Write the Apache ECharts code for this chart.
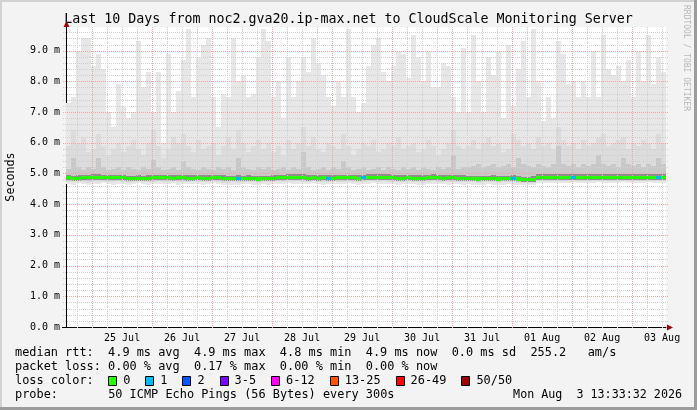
<!DOCTYPE html>
<html>
<head>
<meta charset="utf-8">
<script src="https://cdn.jsdelivr.net/npm/echarts@6/dist/echarts.min.js"></script>
<style>
html,body{margin:0;padding:0;background:#f3f3f3;}
#c{width:697px;height:410px;}
</style>
</head>
<body>
<div id="c"></div>
<script>
// ---- time base: hours after 24 Jul 2026 00:00 ----
const START_H = 13 + 33 / 60 + 32 / 3600;   // 24 Jul 13:33:32
const SPAN_H = 240;                          // 10 days
const STEP_H = 2;                            // one smoke column = 2 hours

const dayLabels = ['25 Jul', '26 Jul', '27 Jul', '28 Jul', '29 Jul', '30 Jul', '31 Jul', '01 Aug', '02 Aug', '03 Aug'];
const dayLabelHours = [36, 60, 84, 108, 132, 156, 180, 204, 228, 252];
const yTickValues = [0, 1, 2, 3, 4, 5, 6, 7, 8, 9];

// ---- RTT values in milliseconds (axis shows "m" = milli-seconds) ----
const maxRtt = [
  7.3, 7.5, 9.0, 9.4, 9.4, 8.5, 8.9, 8.4, 7.0, 6.5, 7.9, 7.2, 6.8, 7.0, 9.3, 7.8, 8.3, 7.0, 8.3, 6.0,
  8.9, 7.0, 7.7, 8.7, 9.7, 7.5, 8.8, 9.2, 9.4, 7.5, 6.5, 7.6, 7.5, 9.4, 8.0, 8.2, 7.5, 7.6, 8.8, 9.7,
  9.3, 7.5, 8.0, 6.8, 8.8, 7.5, 8.0, 8.8, 8.3, 9.4, 8.6, 8.2, 7.5, 7.2, 8.0, 7.5, 9.7, 7.5, 7.0, 7.3,
  8.5, 9.2, 9.4, 8.3, 8.0, 8.5, 9.0, 8.9, 8.1, 9.5, 8.8, 8.0, 9.0, 7.8, 7.8, 8.6, 8.5, 7.5, 7.0, 9.1,
  7.0, 9.5, 8.0, 7.0, 8.8, 8.2, 9.0, 6.8, 9.2, 7.2, 8.4, 9.3, 7.5, 9.7, 8.0, 6.7, 7.5, 6.8, 9.3, 8.9,
  7.9, 8.0, 7.5, 8.0, 7.5, 9.0, 7.5, 9.5, 8.4, 8.2, 8.5, 8.0, 8.7, 7.5, 9.0, 8.0, 9.5, 7.9, 8.8, 8.3
];
const upperSmoke = [
  5.9, 6.4, 6.0, 6.2, 5.7, 5.8, 6.3, 5.9, 5.6, 5.8, 6.0, 5.7, 5.9, 6.1, 5.8, 5.6, 6.0, 6.4, 5.9, 5.5,
  5.8, 6.2, 6.0, 6.3, 5.9, 5.7, 6.1, 5.8, 5.9, 6.0, 5.6, 5.9, 6.2, 5.8, 6.4, 6.0, 5.7, 5.9, 6.1, 5.8,
  6.0, 5.7, 5.9, 5.6, 6.1, 5.8, 6.0, 6.5, 5.9, 6.2, 5.8, 5.7, 6.0, 5.9, 5.8, 6.3, 5.9, 5.6, 5.8, 6.0,
  5.9, 6.1, 5.7, 5.8, 6.0, 5.9, 6.2, 5.8, 5.9, 6.0, 5.7, 5.8, 6.1, 5.9, 5.6, 5.8, 6.0, 6.4, 5.9, 5.8,
  5.9, 6.1, 5.8, 6.0, 6.2, 5.9, 6.0, 5.7, 5.8, 6.3, 6.1, 5.9, 6.0, 5.8, 6.2, 5.9, 6.0, 5.8, 6.5, 6.1,
  5.9, 6.0, 5.8, 6.1, 5.9, 6.0, 6.2, 6.3, 5.9, 6.0, 6.1, 6.2, 5.8, 6.0, 5.9, 6.1, 6.0, 5.8, 6.3, 6.0
];
const innerSmoke = [
  5.15, 5.5, 5.2, 5.1, 5.2, 5.15, 5.5, 5.2, 5.1, 5.15, 5.2, 5.1, 5.2, 5.15, 5.1, 5.2, 5.15, 5.45, 5.2, 5.1,
  5.15, 5.2, 5.1, 5.4, 5.2, 5.15, 5.1, 5.2, 5.15, 5.1, 5.2, 5.15, 5.2, 5.1, 5.5, 5.2, 5.15, 5.1, 5.2, 5.15,
  5.2, 5.1, 5.15, 5.2, 5.1, 5.2, 5.15, 5.7, 5.2, 5.1, 5.15, 5.2, 5.1, 5.2, 5.15, 5.4, 5.2, 5.1, 5.15, 5.2,
  5.1, 5.15, 5.2, 5.1, 5.2, 5.15, 5.1, 5.2, 5.15, 5.2, 5.1, 5.2, 5.15, 5.1, 5.2, 5.15, 5.2, 5.6, 5.15, 5.2,
  5.2, 5.25, 5.3, 5.2, 5.25, 5.3, 5.2, 5.25, 5.3, 5.2, 5.5, 5.3, 5.25, 5.2, 5.3, 5.25, 5.2, 5.3, 5.9, 5.3,
  5.25, 5.3, 5.2, 5.3, 5.25, 5.3, 5.6, 5.3, 5.25, 5.3, 5.2, 5.5, 5.3, 5.25, 5.3, 5.2, 5.3, 5.25, 5.5, 5.3
];
const minRtt = [
  4.66, 4.64, 4.68, 4.66, 4.63, 4.67, 4.65, 4.68, 4.66, 4.64, 4.67, 4.66, 4.63, 4.65, 4.68, 4.66, 4.64, 4.66, 4.67, 4.65,
  4.66, 4.68, 4.64, 4.66, 4.65, 4.67, 4.66, 4.64, 4.66, 4.68, 4.65, 4.63, 4.62, 4.64, 4.63, 4.65, 4.66, 4.64, 4.63, 4.65,
  4.64, 4.66, 4.67, 4.65, 4.68, 4.66, 4.67, 4.65, 4.66, 4.68, 4.66, 4.64, 4.66, 4.67, 4.65, 4.66, 4.68, 4.66, 4.64, 4.66,
  4.67, 4.68, 4.66, 4.67, 4.65, 4.66, 4.64, 4.66, 4.67, 4.65, 4.64, 4.63, 4.66, 4.67, 4.65, 4.66, 4.64, 4.66, 4.65, 4.64,
  4.65, 4.64, 4.63, 4.64, 4.65, 4.64, 4.63, 4.64, 4.65, 4.64, 4.63, 4.62, 4.62, 4.63, 4.70, 4.70, 4.69, 4.70, 4.68, 4.70,
  4.70, 4.71, 4.70, 4.69, 4.70, 4.70, 4.71, 4.70, 4.69, 4.70, 4.70, 4.71, 4.70, 4.70, 4.69, 4.70, 4.71, 4.70, 4.70, 4.70
];
const medianRtt = [
  4.86, 4.83, 4.84, 4.86, 4.86, 4.87, 4.87, 4.86, 4.86, 4.86, 4.86, 4.86, 4.83, 4.83, 4.84, 4.83, 4.85, 4.86, 4.86, 4.86,
  4.86, 4.85, 4.86, 4.86, 4.84, 4.84, 4.86, 4.85, 4.84, 4.86, 4.86, 4.85, 4.83, 4.83, 4.84, 4.83, 4.84, 4.83, 4.82, 4.83,
  4.83, 4.84, 4.86, 4.86, 4.87, 4.87, 4.87, 4.87, 4.84, 4.86, 4.85, 4.86, 4.84, 4.85, 4.86, 4.86, 4.86, 4.86, 4.85, 4.86,
  4.87, 4.87, 4.87, 4.87, 4.87, 4.86, 4.84, 4.85, 4.86, 4.85, 4.84, 4.84, 4.86, 4.87, 4.86, 4.85, 4.86, 4.86, 4.85, 4.84,
  4.83, 4.83, 4.82, 4.83, 4.83, 4.84, 4.82, 4.83, 4.83, 4.84, 4.82, 4.80, 4.80, 4.81, 4.88, 4.88, 4.87, 4.88, 4.88, 4.88,
  4.87, 4.88, 4.88, 4.88, 4.88, 4.88, 4.88, 4.88, 4.88, 4.88, 4.88, 4.88, 4.88, 4.88, 4.88, 4.88, 4.88, 4.88, 4.88, 4.88
];
const lostPings = [
  0, 0, 0, 0, 0, 0, 0, 0, 0, 0, 0, 0, 0, 0, 0, 0, 0, 0, 0, 0,
  0, 0, 0, 0, 0, 0, 0, 0, 0, 0, 0, 0, 0, 0, 1, 0, 0, 0, 0, 0,
  0, 0, 0, 0, 0, 0, 0, 0, 0, 0, 0, 0, 1, 0, 0, 0, 0, 0, 0, 1,
  0, 0, 0, 0, 0, 0, 0, 0, 0, 0, 0, 0, 0, 0, 0, 0, 0, 0, 0, 0,
  0, 0, 0, 0, 0, 0, 0, 0, 0, 1, 0, 0, 0, 0, 0, 0, 0, 0, 0, 0,
  0, 1, 0, 0, 0, 0, 0, 0, 0, 0, 0, 0, 0, 0, 0, 0, 0, 0, 1, 0
];

// ---- legend / text ----
const titleText = 'Last 10 Days from noc2.gva20.ip-max.net to CloudScale Monitoring Server';
const statsLines = [
  'median rtt:  4.9 ms avg  4.9 ms max  4.8 ms min  4.9 ms now  0.0 ms sd  255.2   am/s',
  'packet loss: 0.00 % avg  0.17 % max  0.00 % min  0.00 % now'
];
const lossLabels = ['0', '1', '2', '3-5', '6-12', '13-25', '26-49', '50/50'];
const lossFrom = [0, 1, 2, 3, 6, 13, 26, 50];
const lossColors = ['#26ff00', '#00b8ff', '#0059ff', '#7e00ff', '#ff00ff', '#ff5500', '#ff0000', '#a10000'];
const probeText = '50 ICMP Echo Pings (56 Bytes) every 300s';
const dateText = 'Mon Aug  3 13:33:32 2026';

// ---- build ----
const MONO = '"DejaVu Sans Mono", monospace';
const LFS = 11.9, CH = LFS * 0.602;
const G = { left: 66, top: 27, width: 600, height: 300 };
const YMAX = 9.77;

function lossColor(n) {
  let c = lossColors[0];
  for (let i = 0; i < lossFrom.length; i++) if (n >= lossFrom[i]) c = lossColors[i];
  return c;
}

const colData = maxRtt.map((m, i) => [
  START_H + i * STEP_H, START_H + (i + 1) * STEP_H,
  minRtt[i], innerSmoke[i], upperSmoke[i], m, medianRtt[i], lostPings[i]
]);

// vertical grid: [hour, isMajor]; horizontal grid: [x inside range, value, isMajor]
const vGridData = [];
for (let h = Math.ceil(START_H / 6) * 6; h < START_H + SPAN_H; h += 6) vGridData.push([h, h % 24 === 0 ? 1 : 0]);
const hGridData = [];
for (let k = 1; k * 0.2 < YMAX; k++) hGridData.push([START_H + 1, +(k * 0.2).toFixed(1), k % 5 === 0 ? 1 : 0]);

const MAJOR = { stroke: '#f3a3a3', lineWidth: 1, lineDash: [1, 1] };
const MINOR = { stroke: '#d0d0d0', lineWidth: 1, lineDash: [1, 1] };

function smokeItem(params, api) {
  const t0 = api.value(0), t1 = api.value(1);
  const lo = api.value(2), in3 = api.value(3), up2 = api.value(4), top = api.value(5), med = api.value(6);
  const x0 = Math.round(api.coord([t0, 0])[0]);
  const x1 = Math.round(api.coord([t1, 0])[0]);
  const py = v => Math.round(api.coord([t0, v])[1]);
  const rect = (a, b, fill) => ({ type: 'rect', shape: { x: x0, y: py(b), width: x1 - x0, height: py(a) - py(b) }, style: { fill } });
  return {
    type: 'group', children: [
      rect(lo, top, '#e7e7e7'),
      rect(lo + 0.07, up2, '#dcdcdc'),
      rect(med - 0.09, in3, '#c8c8c8'),
      rect(med - 0.08, med + 0.1, '#8f8f8f')
    ]
  };
}
function vGridItem(params, api) {
  const cs = params.coordSys;
  const x = Math.round(api.coord([api.value(0), 0])[0]) + 0.5;
  return { type: 'line', shape: { x1: x, y1: cs.y, x2: x, y2: cs.y + cs.height + 2 }, style: api.value(1) ? MAJOR : MINOR };
}
function hGridItem(params, api) {
  const cs = params.coordSys;
  const y = Math.round(api.coord([api.value(0), api.value(1)])[1]) + 0.5;
  return { type: 'line', shape: { x1: cs.x - 3, y1: y, x2: cs.x + cs.width + 2, y2: y }, style: api.value(2) ? MAJOR : MINOR };
}
function medianItem(params, api) {
  const t0 = api.value(0), t1 = api.value(1), med = api.value(6), lost = api.value(7);
  const x0 = Math.round(api.coord([t0, 0])[0]);
  const x1 = Math.round(api.coord([t1, 0])[0]);
  const yTop = Math.round(api.coord([t0, med + 0.05])[1]);
  const yBot = Math.round(api.coord([t0, med - 0.05])[1]);
  return { type: 'rect', shape: { x: x0, y: yTop, width: x1 - x0, height: Math.max(3, yBot - yTop) }, style: { fill: lossColor(lost) } };
}

const graphics = [];
// frame
graphics.push({ type: 'rect', shape: { x: 0, y: 0, width: 697, height: 2 }, style: { fill: '#d2d2d2' }, silent: true });
graphics.push({ type: 'rect', shape: { x: 0, y: 0, width: 2, height: 410 }, style: { fill: '#d2d2d2' }, silent: true });
graphics.push({ type: 'rect', shape: { x: 694, y: 0, width: 3, height: 410 }, style: { fill: '#9c9c9c' }, silent: true });
graphics.push({ type: 'rect', shape: { x: 0, y: 407, width: 697, height: 3 }, style: { fill: '#9c9c9c' }, silent: true });
// title
graphics.push({ type: 'text', x: 348.5, y: 20, style: { text: titleText, font: '13.3px ' + MONO, fill: '#000', align: 'center', verticalAlign: 'middle' } });
// unit label
graphics.push({ type: 'text', x: 10.5, y: G.top + G.height / 2, rotation: Math.PI / 2, style: { text: 'Seconds', font: '11.7px ' + MONO, fill: '#000', align: 'center', verticalAlign: 'middle' } });
// watermark
graphics.push({ type: 'text', x: 686.5, y: 5, rotation: -Math.PI / 2, style: { text: 'RRDTOOL / TOBI OETIKER', font: '8px ' + MONO, fill: '#b8b8b8', align: 'left', verticalAlign: 'middle' } });
// axis arrows
graphics.push({ type: 'polygon', shape: { points: [[G.left + 0.5, G.top - 6], [G.left - 2.5, G.top], [G.left + 3.5, G.top]] }, style: { fill: '#a00000' }, z: 20 });
graphics.push({ type: 'polygon', shape: { points: [[G.left + G.width + 7, G.top + G.height + 0.5], [G.left + G.width + 1, G.top + G.height - 2.5], [G.left + G.width + 1, G.top + G.height + 3.5]] }, style: { fill: '#a00000' }, z: 20 });
graphics.push({ type: 'line', shape: { x1: G.left - 4, y1: G.top + G.height + 0.5, x2: G.left, y2: G.top + G.height + 0.5 }, style: { stroke: '#000', lineWidth: 1 }, z: 20 });
// stats text
const rowY = [353, 367, 381, 395];
statsLines.forEach((s, i) => graphics.push({ type: 'text', x: 15, y: rowY[i], style: { text: s, font: LFS + 'px ' + MONO, fill: '#000', verticalAlign: 'middle' } }));
graphics.push({ type: 'text', x: 15, y: rowY[2], style: { text: 'loss color:', font: LFS + 'px ' + MONO, fill: '#000', verticalAlign: 'middle' } });
let lx = 15 + 13 * CH;
lossLabels.forEach((lab, i) => {
  graphics.push({ type: 'rect', shape: { x: Math.round(lx) + 0.5, y: rowY[2] - 4.5, width: 8, height: 9 }, style: { fill: lossColors[i], stroke: '#000', lineWidth: 1 } });
  graphics.push({ type: 'text', x: lx + 15, y: rowY[2], style: { text: lab, font: LFS + 'px ' + MONO, fill: '#000', verticalAlign: 'middle' } });
  lx += 15 + lab.length * CH + 15;
});
graphics.push({ type: 'text', x: 15, y: rowY[3], style: { text: 'probe:', font: LFS + 'px ' + MONO, fill: '#000', verticalAlign: 'middle' } });
graphics.push({ type: 'text', x: 15 + 13 * CH, y: rowY[3], style: { text: probeText, font: LFS + 'px ' + MONO, fill: '#000', verticalAlign: 'middle' } });
graphics.push({ type: 'text', x: 682, y: rowY[3], style: { text: dateText, font: '11.7px ' + MONO, fill: '#000', align: 'right', verticalAlign: 'middle' } });

const chart = echarts.init(document.getElementById('c'), null, { renderer: 'canvas' });
chart.setOption({
  animation: false,
  backgroundColor: '#f3f3f3',
  grid: { left: G.left, top: G.top, width: G.width, height: G.height, show: true, backgroundColor: '#ffffff', borderWidth: 0 },
  xAxis: {
    type: 'value', min: START_H, max: START_H + SPAN_H,
    axisLine: { show: true, lineStyle: { color: '#000', width: 1 } },
    axisTick: { show: false }, splitLine: { show: false },
    axisLabel: {
      customValues: dayLabelHours,
      formatter: v => { const i = dayLabelHours.indexOf(Math.round(v)); return i >= 0 ? dayLabels[i] : ''; },
      fontFamily: MONO, fontSize: 10, color: '#000', margin: 6
    }
  },
  yAxis: {
    type: 'value', min: 0, max: YMAX, interval: 1,
    axisLine: { show: true, lineStyle: { color: '#000', width: 1 } },
    axisTick: { show: false }, splitLine: { show: false },
    axisLabel: {
      customValues: yTickValues,
      formatter: v => v.toFixed(1) + ' m',
      fontFamily: MONO, fontSize: 10, color: '#000', margin: 6
    }
  },
  series: [
    { type: 'custom', name: 'smoke', renderItem: smokeItem, data: colData, z: 1, clip: true, silent: true },
    { type: 'custom', name: 'vgrid', renderItem: vGridItem, data: vGridData, z: 2, clip: false, silent: true },
    { type: 'custom', name: 'hgrid', renderItem: hGridItem, data: hGridData, z: 2, clip: false, silent: true },
    { type: 'custom', name: 'median', renderItem: medianItem, data: colData, z: 3, clip: true, silent: true }
  ],
  graphic: graphics
});
</script>
</body>
</html>
